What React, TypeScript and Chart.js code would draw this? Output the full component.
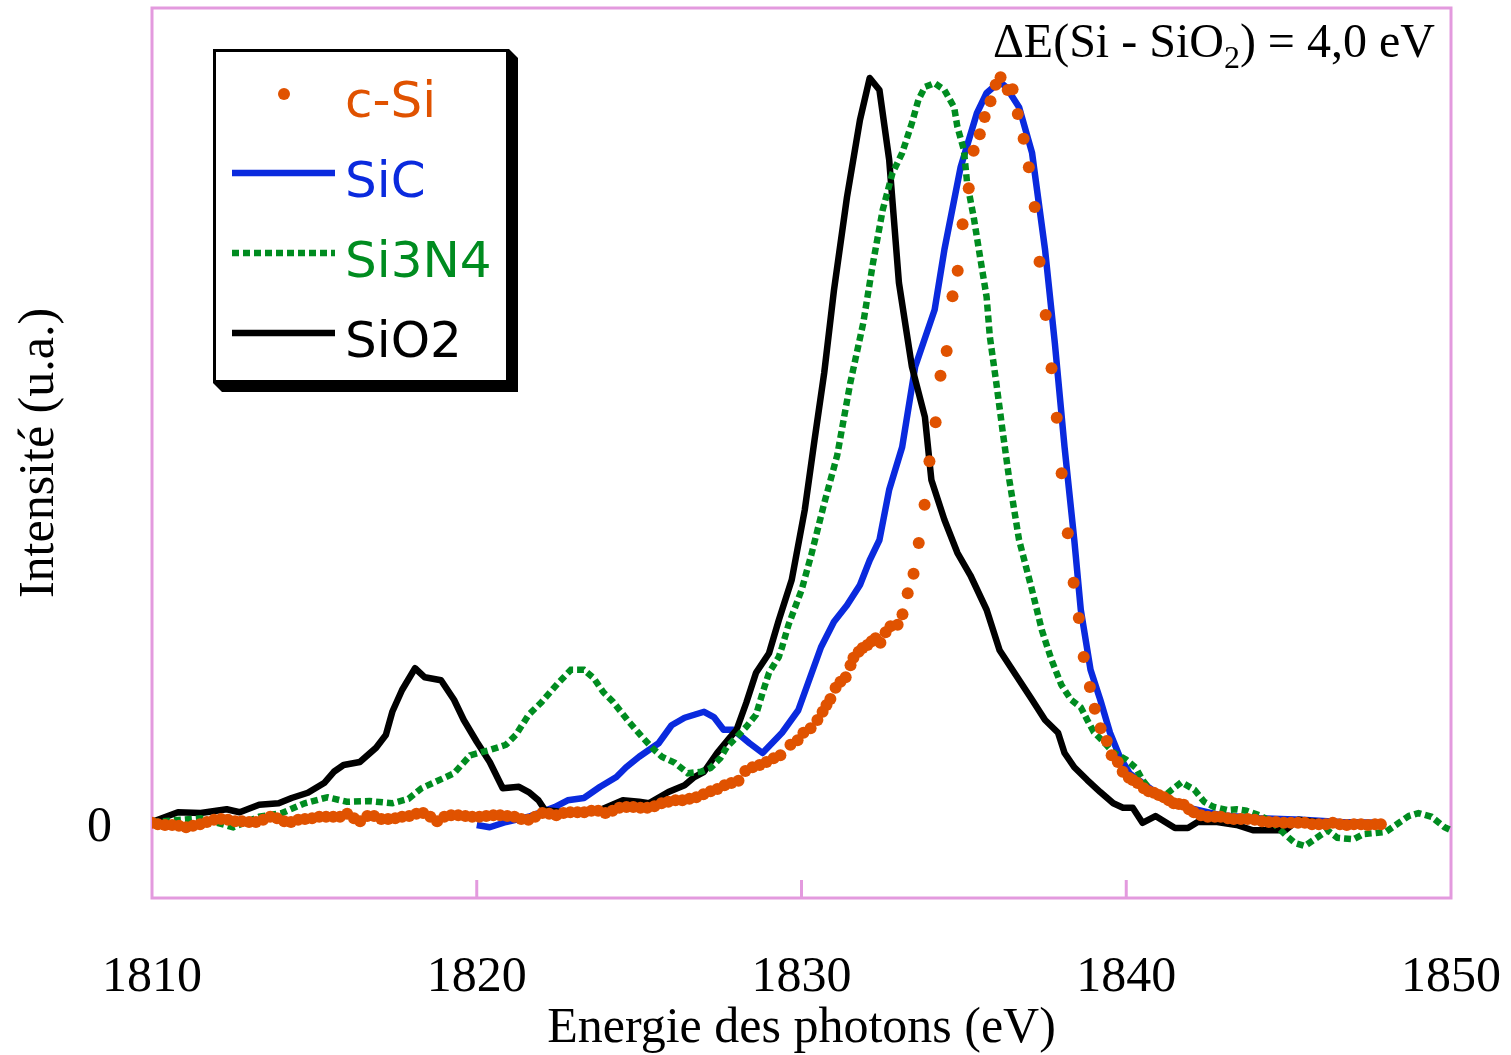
import React, { useEffect, useRef } from 'react';
import { Chart, registerables } from 'chart.js';

Chart.register(...registerables);

// ---------- data ----------
const X_TICKS = [1810, 1820, 1830, 1840, 1850];
const Y_TICKS = [0];
const SERIES_NAMES = ['c-Si', 'SiC', 'Si3N4', 'SiO2'];
const X_TITLE = 'Energie des photons (eV)';
const Y_TITLE = 'Intensité (u.a.)';
const NOTE_PARTS = ['ΔE(Si - SiO', '2', ') = 4,0 eV'];

const CSI_X = [
  1810.00, 1810.18, 1810.40, 1810.62, 1810.83, 1811.05, 1811.26, 1811.48, 1811.69, 1811.91,
  1812.13, 1812.34, 1812.56, 1812.77, 1812.99, 1813.20, 1813.42, 1813.64, 1813.85, 1814.07,
  1814.28, 1814.50, 1814.71, 1814.93, 1815.15, 1815.36, 1815.58, 1815.79, 1816.01, 1816.22,
  1816.41, 1816.63, 1816.84, 1817.06, 1817.27, 1817.49, 1817.70, 1817.92, 1818.14, 1818.35,
  1818.57, 1818.78, 1819.00, 1819.21, 1819.43, 1819.65, 1819.86, 1820.08, 1820.29, 1820.51,
  1820.72, 1820.94, 1821.16, 1821.37, 1821.59, 1821.80, 1822.02, 1822.23, 1822.45, 1822.67,
  1822.88, 1823.10, 1823.31, 1823.53, 1823.74, 1823.96, 1824.18, 1824.39, 1824.61, 1824.82,
  1825.04, 1825.25, 1825.47, 1825.69, 1825.90, 1826.12, 1826.33, 1826.55, 1826.76, 1826.98,
  1827.20, 1827.41, 1827.63, 1827.84, 1828.06, 1828.27, 1828.49, 1828.71, 1828.92, 1829.14,
  1829.35,
  1829.66, 1829.88, 1830.06, 1830.28, 1830.49, 1830.65, 1830.77, 1830.89, 1831.05, 1831.20,
  1831.36, 1831.51, 1831.60, 1831.76, 1831.88, 1832.03, 1832.16, 1832.28, 1832.43, 1832.59,
  1832.74, 1832.96, 1833.11, 1833.27, 1833.45, 1833.61, 1833.79, 1833.94, 1834.13, 1834.28,
  1834.47, 1834.65, 1834.81, 1834.96, 1835.15, 1835.30, 1835.49, 1835.64, 1835.82, 1835.98,
  1836.13, 1836.35, 1836.50, 1836.66, 1836.84, 1837.00, 1837.18, 1837.33, 1837.52, 1837.70,
  1837.86, 1838.01, 1838.20, 1838.38, 1838.54, 1838.69, 1838.88, 1839.03, 1839.21, 1839.40,
  1839.55, 1839.74, 1839.89, 1840.08, 1840.20, 1840.35, 1840.54, 1840.69, 1840.85, 1841.00,
  1841.16, 1841.31, 1841.46, 1841.62, 1841.77, 1841.93, 1842.08, 1842.30, 1842.51, 1842.73,
  1842.91, 1843.13, 1843.31, 1843.53, 1843.74, 1843.96, 1844.18, 1844.39, 1844.61, 1844.85,
  1845.07, 1845.29, 1845.50, 1845.72, 1845.93, 1846.15, 1846.36, 1846.58, 1846.79, 1847.01,
  1847.23, 1847.44, 1847.66, 1847.84,
];
const CSI_Y = [
  0.7, 0.5, 0.4, 0.4, 0.3, 0.1, 0.3, 0.5, 0.8, 1.1,
  1.2, 1.1, 0.9, 0.9, 0.8, 0.8, 1.1, 1.5, 1.3, 0.9,
  0.8, 1.1, 1.2, 1.3, 1.5, 1.5, 1.5, 1.5, 1.9, 1.3,
  0.9, 1.6, 1.6, 1.2, 1.2, 1.3, 1.5, 1.6, 1.9, 2.0,
  1.5, 0.9, 1.5, 1.7, 1.7, 1.6, 1.5, 1.5, 1.6, 1.7,
  1.7, 1.6, 1.5, 1.2, 1.1, 1.5, 2.0, 1.9, 1.7, 2.0,
  2.1, 2.1, 2.1, 2.3, 2.3, 2.0, 2.3, 2.7, 2.8, 2.8,
  2.7, 2.7, 2.9, 3.3, 3.5, 3.7, 3.7, 3.9, 4.1, 4.5,
  4.9, 5.2, 5.7, 6.0, 6.3, 7.6, 8.1, 8.4, 8.8, 9.3,
  9.7,
  11.1, 11.7, 12.7, 13.3, 14.4, 15.5, 16.4, 17.2, 18.7, 19.5,
  20.1, 21.7, 22.7, 23.5, 24.0, 24.4, 24.9, 25.3, 24.7, 26.1,
  26.9, 27.1, 28.5, 31.3, 33.9, 38.0, 43.1, 48.9, 54.1, 60.3,
  63.6, 70.9, 74.3, 80.5, 85.3, 90.3, 92.5, 94.8, 96.9, 99.1,
  100.1, 98.4, 98.5, 95.2, 91.9, 88.1, 82.8, 75.5, 68.4, 61.3,
  54.7, 47.3, 39.3, 32.7, 28.0, 22.8, 18.8, 15.9, 13.3, 11.6,
  9.7, 8.8, 7.5, 6.7, 6.4, 6.0, 5.3, 4.9, 4.7, 4.4,
  4.1, 3.7, 3.3, 3.2, 3.1, 2.5, 2.1, 1.7, 1.5, 1.5,
  1.5, 1.3, 1.2, 1.2, 1.2, 1.1, 0.9, 0.8, 0.8, 0.7,
  0.7, 0.7, 0.7, 0.5, 0.5, 0.5, 0.7, 0.5, 0.4, 0.5,
  0.5, 0.4, 0.5, 0.5,
];

const SIC_X = [
  1820.0, 1820.4, 1820.9, 1821.6, 1822.4, 1822.8, 1823.3, 1823.8, 1824.3, 1824.6,
  1825.0, 1825.6, 1826.0, 1826.4, 1827.0, 1827.3, 1827.6, 1827.9, 1828.4, 1828.8,
  1829.4, 1829.9, 1830.2, 1830.6, 1831.0, 1831.4, 1831.8, 1832.1, 1832.4, 1832.7,
  1833.1, 1833.5, 1834.1, 1834.4, 1834.9, 1835.4, 1835.7, 1836.1, 1836.3, 1836.7,
  1837.1, 1837.5, 1837.8, 1838.1, 1838.4, 1838.6, 1838.9, 1839.2, 1839.5, 1839.8,
  1840.1, 1840.8, 1841.8, 1842.9, 1844.1, 1845.4, 1846.6, 1847.8,
];
const SIC_Y = [
  0.4, 0.1, 0.8, 1.5, 2.8, 3.7, 4.0, 5.5, 6.8, 8.1,
  9.5, 11.3, 13.7, 14.7, 15.5, 14.8, 13.1, 13.1, 11.3, 10.0,
  12.7, 15.7, 19.3, 24.1, 27.5, 29.7, 32.4, 35.7, 38.4, 45.1,
  50.8, 61.5, 69.1, 77.1, 88.1, 95.3, 98.0, 99.5, 98.8, 96.1,
  90.0, 77.1, 64.7, 50.8, 38.4, 29.1, 21.1, 17.1, 12.7, 9.5,
  7.3, 5.1, 2.8, 1.7, 1.3, 1.1, 0.8, 0.7,
];

const SI3N4_X = [
  1810.0, 1811.5, 1812.5, 1813.3, 1814.0, 1814.7, 1815.4, 1816.0, 1816.7, 1817.4,
  1817.9, 1818.3, 1818.7, 1819.3, 1819.8, 1820.4, 1820.9, 1821.2, 1821.6, 1822.0,
  1822.5, 1822.9, 1823.3, 1823.6, 1823.9, 1824.2, 1824.7, 1825.1, 1825.4, 1825.7,
  1826.1, 1826.5, 1826.9, 1827.2, 1827.5, 1827.7, 1828.0, 1828.3, 1828.6, 1828.8,
  1829.0, 1829.3, 1829.4, 1829.6, 1830.0, 1830.3, 1830.7, 1831.1, 1831.5, 1831.9,
  1832.2, 1832.5, 1832.8, 1833.1, 1833.4, 1833.6, 1833.8, 1834.1, 1834.4, 1834.7,
  1834.8, 1835.0, 1835.1, 1835.3, 1835.5, 1835.7, 1835.8, 1836.0, 1836.2, 1836.4,
  1836.7, 1837.1, 1837.4, 1837.7, 1838.0, 1838.3, 1838.6, 1838.8, 1839.0, 1839.3,
  1839.6, 1840.0, 1840.3, 1840.5, 1840.8, 1841.1, 1841.4, 1841.7, 1842.1, 1842.4,
  1842.7, 1843.1, 1843.4, 1843.7, 1844.1, 1844.5, 1844.9, 1845.2, 1845.5, 1845.9,
  1846.2, 1846.5, 1847.0, 1847.3, 1847.6, 1848.0, 1848.4, 1848.7, 1849.0, 1849.4,
  1849.8, 1850.0,
];
const SI3N4_Y = [
  0.8, 1.3, 0.1, 1.5, 2.0, 3.3, 4.1, 3.5, 3.6, 3.3,
  3.9, 5.3, 6.1, 7.3, 9.7, 10.4, 11.1, 12.4, 15.1, 16.8,
  19.3, 21.1, 21.1, 20.0, 18.1, 16.8, 14.1, 12.1, 10.7, 9.5,
  8.7, 7.3, 7.5, 8.0, 9.3, 10.8, 12.1, 13.5, 15.1, 18.0,
  20.7, 22.8, 24.1, 27.1, 31.7, 36.4, 43.3, 49.7, 59.3, 67.3,
  75.3, 82.4, 87.3, 90.0, 94.0, 97.1, 98.8, 99.3, 98.4, 96.1,
  93.5, 90.4, 86.0, 81.5, 76.1, 70.8, 65.5, 59.3, 52.7, 46.4,
  38.4, 31.7, 26.4, 22.4, 19.1, 17.1, 16.1, 14.4, 12.8, 11.5,
  10.1, 9.1, 8.0, 6.4, 4.8, 4.0, 5.1, 6.1, 5.1, 3.5,
  2.8, 2.4, 2.5, 2.3, 1.7, 0.8, -0.9, -2.0, -2.4, -1.2,
  -0.3, -1.3, -1.5, -0.8, -0.7, -0.5, 0.7, 1.6, 2.0, 1.5,
  0.1, -0.3,
];

const SIO2_X = [
  1810.0, 1810.8, 1811.5, 1812.3, 1812.7, 1813.3, 1813.9, 1814.3, 1814.8, 1815.3,
  1815.6, 1815.9, 1816.4, 1816.9, 1817.2, 1817.4, 1817.7, 1818.1, 1818.4, 1818.9,
  1819.3, 1819.6, 1820.0, 1820.4, 1820.8, 1821.3, 1821.6, 1821.9, 1822.1, 1822.7,
  1823.8, 1824.5, 1825.0, 1825.3, 1825.9, 1826.4, 1826.7, 1827.0, 1827.4, 1827.8,
  1828.0, 1828.3, 1828.6, 1829.0, 1829.3, 1829.7, 1830.1, 1830.4, 1830.7, 1831.0,
  1831.4, 1831.8, 1832.1, 1832.4, 1832.7, 1833.0, 1833.4, 1833.8, 1834.0, 1834.4,
  1834.8, 1835.2, 1835.7, 1836.1, 1836.6, 1837.1, 1837.5, 1837.9, 1838.1, 1838.4,
  1838.8, 1839.2, 1839.6, 1839.9, 1840.2, 1840.5, 1840.9, 1841.5, 1841.9, 1842.2,
  1842.8, 1843.4, 1843.9, 1844.9, 1845.3, 1845.9,
];
const SIO2_Y = [
  0.8, 2.1, 2.0, 2.5, 2.1, 3.1, 3.3, 4.0, 4.7, 6.0,
  7.5, 8.4, 8.8, 10.7, 12.4, 15.5, 18.4, 21.3, 20.1, 19.7,
  17.1, 14.4, 11.5, 8.8, 5.3, 5.5, 4.8, 3.7, 2.4, 2.1,
  2.4, 3.7, 3.5, 3.3, 4.8, 5.7, 6.8, 7.5, 10.0, 12.1,
  13.1, 16.7, 20.7, 23.3, 27.7, 33.1, 42.4, 51.7, 60.7, 71.7,
  84.1, 94.4, 100.0, 98.4, 89.1, 72.7, 61.5, 54.8, 46.4, 41.1,
  36.7, 33.7, 29.1, 23.7, 20.4, 17.1, 14.4, 12.7, 10.0, 8.1,
  6.4, 4.8, 3.3, 2.7, 2.7, 0.7, 1.6, 0.0, 0.0, 0.8,
  0.8, 0.4, -0.3, -0.3, 1.1, 0.8,
];

// ---------- styles ----------
const ORANGE = '#e05200';
const BLUE = '#0a2ade';
const GREEN = '#008c20';
const BLACK = '#000000';
const PINK = '#e39ade';
const SERIF = "'Liberation Serif', 'Times New Roman', serif";
const SANS = "'DejaVu Sans', Verdana, sans-serif";

const toPoints = (xs: number[], ys: number[]) => xs.map((x, i) => ({ x, y: ys[i] }));

const decorPlugin = {
  id: 'decor',
  beforeDatasetsDraw(chart: any) {
    const { ctx, chartArea, scales } = chart;
    const { left, right, top, bottom } = chartArea;
    ctx.save();
    ctx.strokeStyle = PINK;
    ctx.lineWidth = 3;
    ctx.strokeRect(left, top, right - left, bottom - top);
    ctx.beginPath();
    X_TICKS.slice(1, -1).forEach((v) => {
      const px = scales.x.getPixelForValue(v);
      ctx.moveTo(px, bottom);
      ctx.lineTo(px, bottom - 18);
    });
    ctx.stroke();
    ctx.restore();
  },
  afterDraw(chart: any) {
    const { ctx } = chart;
    const ds = chart.data.datasets;
    ctx.save();
    // legend with drop shadow
    const bx = 213, by = 49, bw = 296, bh = 334, sh = 9;
    ctx.fillStyle = '#000';
    ctx.beginPath();
    ctx.moveTo(bx + bw, by);
    ctx.lineTo(bx + bw + sh, by + sh);
    ctx.lineTo(bx + bw + sh, by + bh + sh);
    ctx.lineTo(bx + sh, by + bh + sh);
    ctx.lineTo(bx, by + bh);
    ctx.closePath();
    ctx.fill();
    ctx.fillStyle = '#fff';
    ctx.fillRect(bx, by, bw, bh);
    ctx.strokeStyle = '#000';
    ctx.lineWidth = 3;
    ctx.strokeRect(bx + 1.5, by + 1.5, bw - 3, bh - 3);

    const rows = [94, 173, 253, 333];
    const baselines = [117, 197, 277, 357];
    ctx.font = `50px ${SANS}`;
    ctx.textBaseline = 'alphabetic';
    ctx.textAlign = 'left';
    SERIES_NAMES.forEach((name, i) => {
      const color = ds[i].borderColor;
      const y = rows[i];
      if (i === 0) {
        ctx.fillStyle = color;
        ctx.beginPath();
        ctx.arc(284, y, 6, 0, Math.PI * 2);
        ctx.fill();
      } else {
        ctx.strokeStyle = color;
        ctx.lineWidth = 6.5;
        ctx.setLineDash(ds[i].borderDash || []);
        ctx.beginPath();
        ctx.moveTo(232, y);
        ctx.lineTo(335, y);
        ctx.stroke();
        ctx.setLineDash([]);
      }
      ctx.fillStyle = color;
      ctx.fillText(name, 345, baselines[i]);
    });

    // annotation
    ctx.fillStyle = '#000';
    let x = 993;
    ctx.font = `48px ${SERIF}`;
    ctx.fillText(NOTE_PARTS[0], x, 57);
    x += ctx.measureText(NOTE_PARTS[0]).width;
    ctx.font = `32px ${SERIF}`;
    ctx.fillText(NOTE_PARTS[1], x, 68);
    x += ctx.measureText(NOTE_PARTS[1]).width;
    ctx.font = `48px ${SERIF}`;
    ctx.fillText(NOTE_PARTS[2], x, 57);
    ctx.restore();
  },
};

const noPad = (s: any) => {
  s.paddingLeft = 0;
  s.paddingRight = 0;
  s.paddingTop = 0;
  s.paddingBottom = 0;
};

export default function App() {
  const ref = useRef<HTMLCanvasElement | null>(null);

  useEffect(() => {
    if (!ref.current) return;
    const chart = new Chart(ref.current, {
      type: 'line',
      data: {
        datasets: [
          {
            label: SERIES_NAMES[0],
            data: toPoints(CSI_X, CSI_Y),
            showLine: false,
            borderColor: ORANGE,
            backgroundColor: ORANGE,
            pointBackgroundColor: ORANGE,
            pointBorderWidth: 0,
            pointRadius: 6,
            order: 0,
          },
          {
            label: SERIES_NAMES[1],
            data: toPoints(SIC_X, SIC_Y),
            borderColor: BLUE,
            borderWidth: 6.5,
            pointRadius: 0,
            borderJoinStyle: 'round',
            tension: 0,
            order: 3,
          },
          {
            label: SERIES_NAMES[2],
            data: toPoints(SI3N4_X, SI3N4_Y),
            borderColor: GREEN,
            borderWidth: 6.5,
            borderDash: [7, 4],
            pointRadius: 0,
            tension: 0,
            order: 1,
          },
          {
            label: SERIES_NAMES[3],
            data: toPoints(SIO2_X, SIO2_Y),
            borderColor: BLACK,
            borderWidth: 6.5,
            borderJoinStyle: 'round',
            pointRadius: 0,
            tension: 0,
            order: 2,
          },
        ] as any,
      },
      options: {
        responsive: false,
        devicePixelRatio: 1,
        animation: false,
        events: [],
        layout: { padding: { top: 8, right: 60, bottom: 0, left: 0 } },
        plugins: { legend: { display: false }, tooltip: { enabled: false } },
        scales: {
          x: {
            type: 'linear',
            min: 1810,
            max: 1850,
            afterBuildTicks: (s: any) => { s.ticks = X_TICKS.map((value) => ({ value })); },
            afterFit: (s: any) => { s.height = 157; noPad(s); },
            grid: { display: false, drawTicks: false, tickLength: 0 },
            border: { display: false },
            ticks: {
              font: { family: SERIF, size: 50 },
              color: '#000',
              padding: 50,
              maxRotation: 0,
              autoSkip: false,
              callback: (v: any) => String(v),
            },
            title: {
              display: true,
              text: X_TITLE,
              font: { family: SERIF, size: 50 },
              color: '#000',
              padding: { top: 0, bottom: -4 },
            },
          },
          y: {
            type: 'linear',
            min: -9.33,
            max: 109.33,
            afterBuildTicks: (s: any) => { s.ticks = Y_TICKS.map((value) => ({ value })); },
            afterFit: (s: any) => { s.width = 152; noPad(s); },
            grid: { display: false, drawTicks: false, tickLength: 0 },
            border: { display: false },
            ticks: {
              font: { family: SERIF, size: 50 },
              color: '#000',
              padding: 40,
              callback: (v: any) => String(v),
            },
            title: {
              display: true,
              text: Y_TITLE,
              font: { family: SERIF, size: 50 },
              color: '#000',
              padding: { top: 10, bottom: 0 },
            },
          },
        },
      } as any,
      plugins: [decorPlugin],
    });
    return () => chart.destroy();
  }, []);

  return (
    <div style={{ position: 'absolute', left: 0, top: 0, width: 1511, height: 1055, background: '#fff' }}>
      <canvas ref={ref} width={1511} height={1055} style={{ display: 'block' }} />
    </div>
  );
}
